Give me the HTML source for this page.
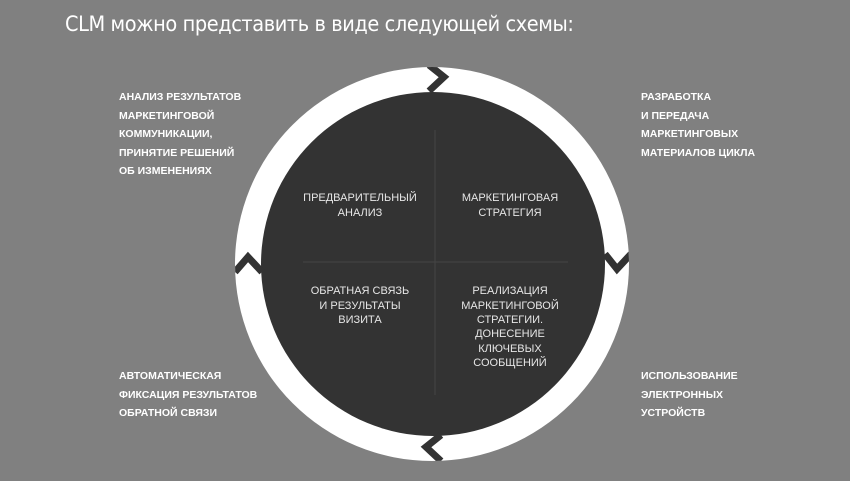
<!DOCTYPE html>
<html><head><meta charset="utf-8"><style>
html,body{margin:0;padding:0;}
body{width:850px;height:481px;background:#808080;position:relative;overflow:hidden;font-family:"Liberation Sans","DejaVu Sans",sans-serif;}
.t{position:absolute;left:65px;top:12px;color:#fff;font-size:21.5px;font-family:"DejaVu Sans Condensed","Liberation Sans",sans-serif;letter-spacing:-0.4px;}
.s{position:absolute;color:#fff;font-weight:bold;font-size:10.5px;line-height:18.5px;}
svg{position:absolute;left:0;top:0;}
</style></head><body>
<div class="t">CLM можно представить в виде следующей схемы:</div>
<div class="s" style="left:119px;top:88px">АНАЛИЗ РЕЗУЛЬТАТОВ<br>МАРКЕТИНГОВОЙ<br>КОММУНИКАЦИИ,<br>ПРИНЯТИЕ РЕШЕНИЙ<br>ОБ ИЗМЕНЕНИЯХ</div>
<div class="s" style="left:641px;top:88px">РАЗРАБОТКА<br>И ПЕРЕДАЧА<br>МАРКЕТИНГОВЫХ<br>МАТЕРИАЛОВ ЦИКЛА</div>
<div class="s" style="left:119px;top:367px">АВТОМАТИЧЕСКАЯ<br>ФИКСАЦИЯ РЕЗУЛЬТАТОВ<br>ОБРАТНОЙ СВЯЗИ</div>
<div class="s" style="left:641px;top:367px">ИСПОЛЬЗОВАНИЕ<br>ЭЛЕКТРОННЫХ<br>УСТРОЙСТВ</div>
<svg width="850" height="481">
<defs><clipPath id="c"><circle cx="432" cy="264" r="197"/></clipPath></defs>
<circle cx="432" cy="264" r="197" fill="#fff"/>
<circle cx="433" cy="264" r="172" fill="#333"/>
<g stroke="#333" stroke-width="7" fill="none" clip-path="url(#c)">
<polyline points="429,65 444,77 429,91"/>
<polyline points="605,254 617,269 631,254"/>
<polyline points="441,435 426,447 441,461"/>
<polyline points="235,272 248,257 262,272"/>
</g>
<line x1="435" y1="130" x2="435" y2="395" stroke="#444" stroke-width="1"/>
<line x1="303" y1="262" x2="568" y2="262" stroke="#444" stroke-width="1"/>
<g fill="#e6e6e6" font-size="11" text-anchor="middle" font-family="Liberation Sans,sans-serif">
<text x="360" y="201">ПРЕДВАРИТЕЛЬНЫЙ</text><text x="360" y="216">АНАЛИЗ</text>
<text x="510" y="201">МАРКЕТИНГОВАЯ</text><text x="510" y="216">СТРАТЕГИЯ</text>
<text x="360" y="294">ОБРАТНАЯ СВЯЗЬ</text><text x="360" y="309">И РЕЗУЛЬТАТЫ</text><text x="360" y="323">ВИЗИТА</text>
<text x="510" y="294">РЕАЛИЗАЦИЯ</text><text x="510" y="309">МАРКЕТИНГОВОЙ</text><text x="510" y="323">СТРАТЕГИИ.</text><text x="510" y="337">ДОНЕСЕНИЕ</text><text x="510" y="352">КЛЮЧЕВЫХ</text><text x="510" y="366">СООБЩЕНИЙ</text>
</g>
</svg>
</body></html>
